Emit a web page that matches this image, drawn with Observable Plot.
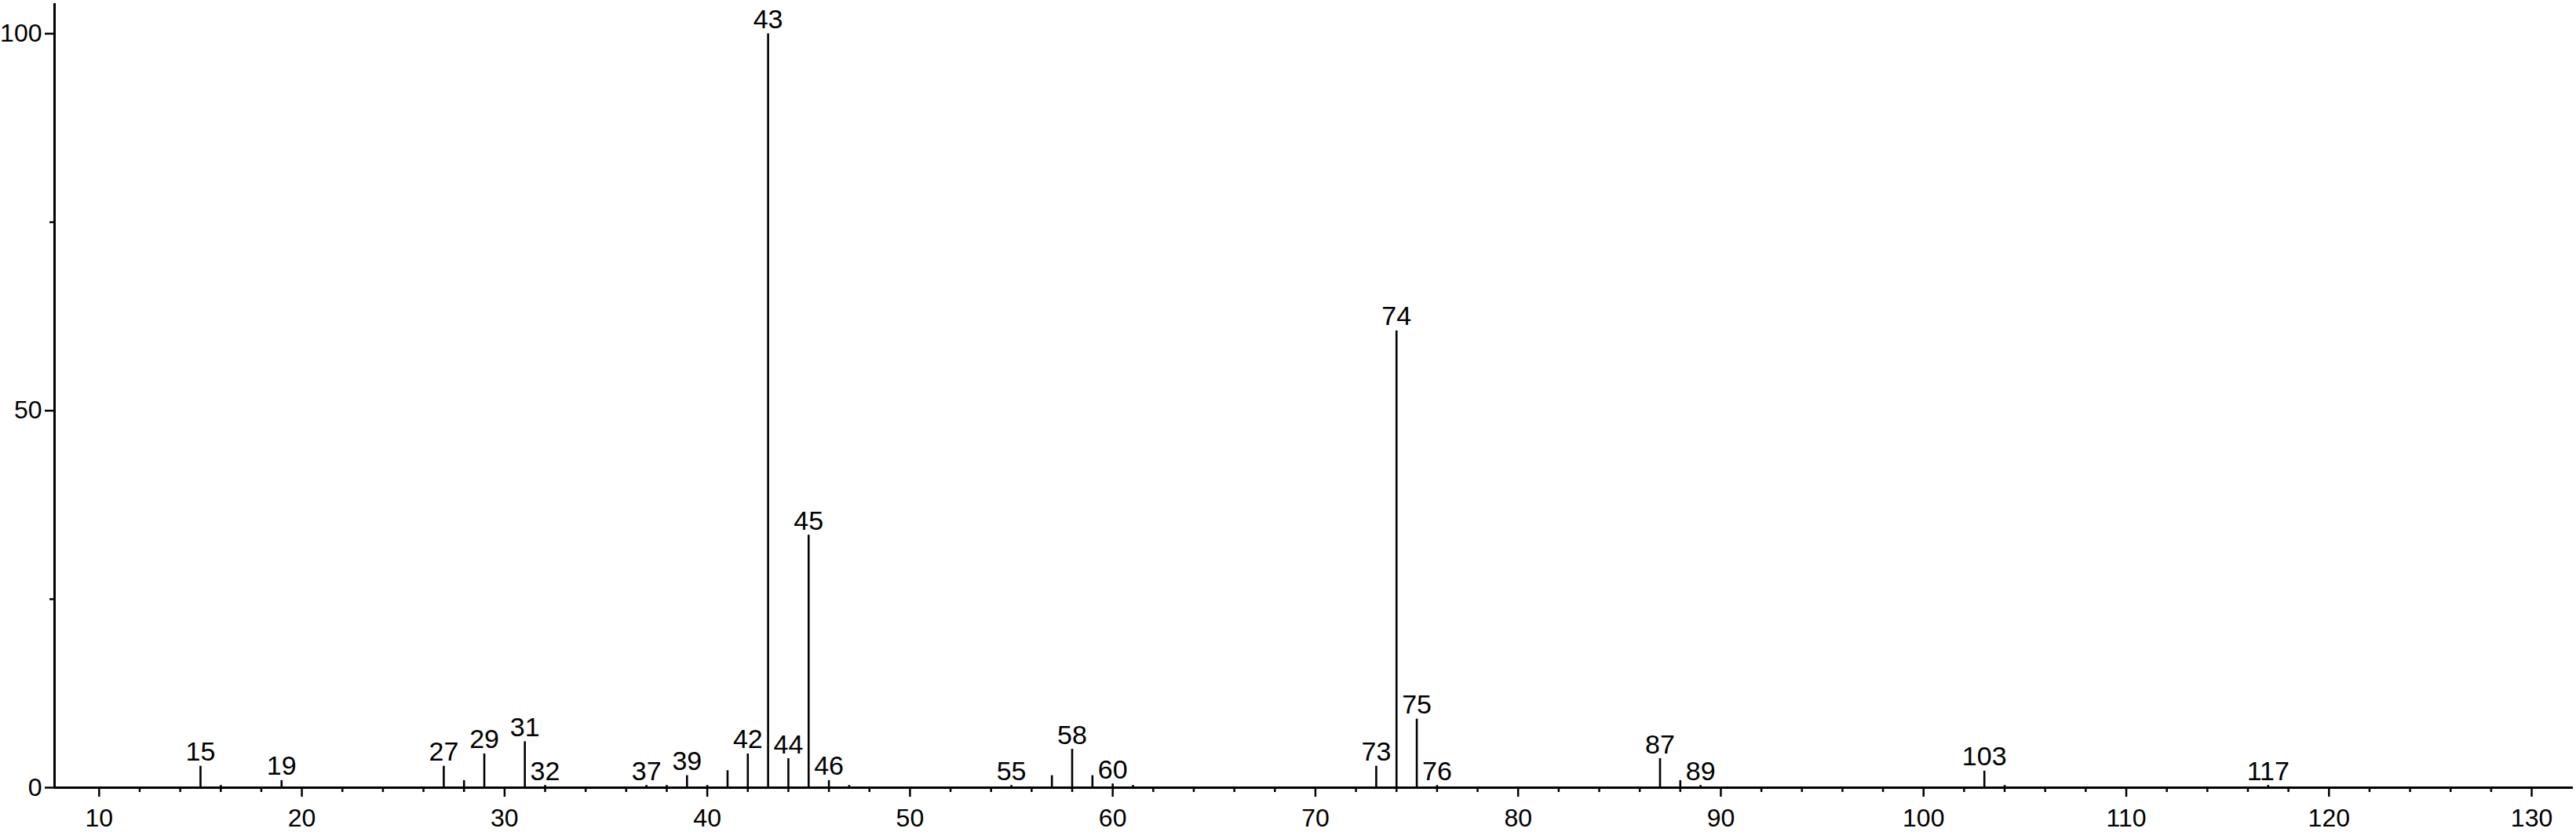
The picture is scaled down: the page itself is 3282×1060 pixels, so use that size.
<!DOCTYPE html>
<html><head><meta charset="utf-8">
<script src="https://cdn.jsdelivr.net/npm/d3@7"></script>
<script src="https://cdn.jsdelivr.net/npm/@observablehq/plot@0.6"></script>
<style>html,body{margin:0;padding:0;background:#fff} svg{display:block}</style>
</head><body><div id="chart"></div>
<script>
// m/z values of the peaks
const mz = [15, 16, 19, 27, 28, 29, 31, 32, 37, 38, 39, 40, 41, 42, 43, 44, 45, 46, 47, 55, 57, 58, 59, 60, 61, 73, 74, 75, 76, 87, 88, 89, 103, 104, 117];
// relative intensities (%)
const intensity = [2.85, 0.3, 0.94, 2.85, 0.94, 4.48, 6.1, 0.3, 0.3, 0.3, 1.6, 0.3, 2.26, 4.48, 100, 3.85, 33.5, 0.94, 0.3, 0.3, 1.6, 5.1, 1.6, 0.5, 0.3, 2.85, 60.6, 9.1, 0.3, 3.85, 0.94, 0.3, 2.2, 0.3, 0.3];
// peaks that carry a label
const labeledMz = [15, 19, 27, 29, 31, 32, 37, 39, 42, 43, 44, 45, 46, 55, 58, 60, 73, 74, 75, 76, 87, 89, 103, 117];
// axis ticks
const xTicks = [10, 20, 30, 40, 50, 60, 70, 80, 90, 100, 110, 120, 130];
const xMinorTicks = d3.range(12, 129, 2).filter(v => v % 10 !== 0);
const yTicks = [0, 50, 100];
const yMinorTicks = [25, 75];
const xDomain = [7.8, 132.05];
const yDomain = [0, 104];

const peaks = mz.map((m, i) => ({mz: m, intensity: intensity[i]}));
const labels = peaks.filter(d => labeledMz.includes(d.mz));
const font = "'Liberation Sans', Arial, Helvetica, sans-serif";
const blank = () => "";

const chart = Plot.plot({
  width: 3282, height: 1060,
  marginLeft: 69, marginRight: 4, marginTop: 4, marginBottom: 57,
  style: {fontFamily: font, background: "#fff", color: "#000", overflow: "visible"},
  x: {domain: xDomain, label: null},
  y: {domain: yDomain, label: null},
  marks: [
    Plot.axisX(xMinorTicks, {tickSize: 6, tickFormat: blank, strokeWidth: 2.5, label: null}),
    Plot.axisX(xTicks, {tickSize: 12, tickPadding: 15, fontSize: 32, strokeWidth: 2.5, label: null}),
    Plot.axisY(yMinorTicks, {tickSize: 6, tickFormat: blank, strokeWidth: 2.5, label: null}),
    Plot.axisY(yTicks, {tickSize: 12, tickPadding: 4, fontSize: 32, strokeWidth: 2.5, label: null}),
    Plot.ruleX(peaks, {x: "mz", y1: 0, y2: "intensity", strokeWidth: 2.6, stroke: "#000"}),
    Plot.ruleY([0], {strokeWidth: 3, stroke: "#000"}),
    Plot.ruleX([xDomain[0]], {strokeWidth: 3, stroke: "#000"}),
    Plot.text(labels, {x: "mz", y: "intensity", text: d => String(d.mz), lineAnchor: "bottom", dy: -7, fontSize: 34, fill: "#000"})
  ]
});
document.getElementById("chart").appendChild(chart);
</script>
</body></html>
